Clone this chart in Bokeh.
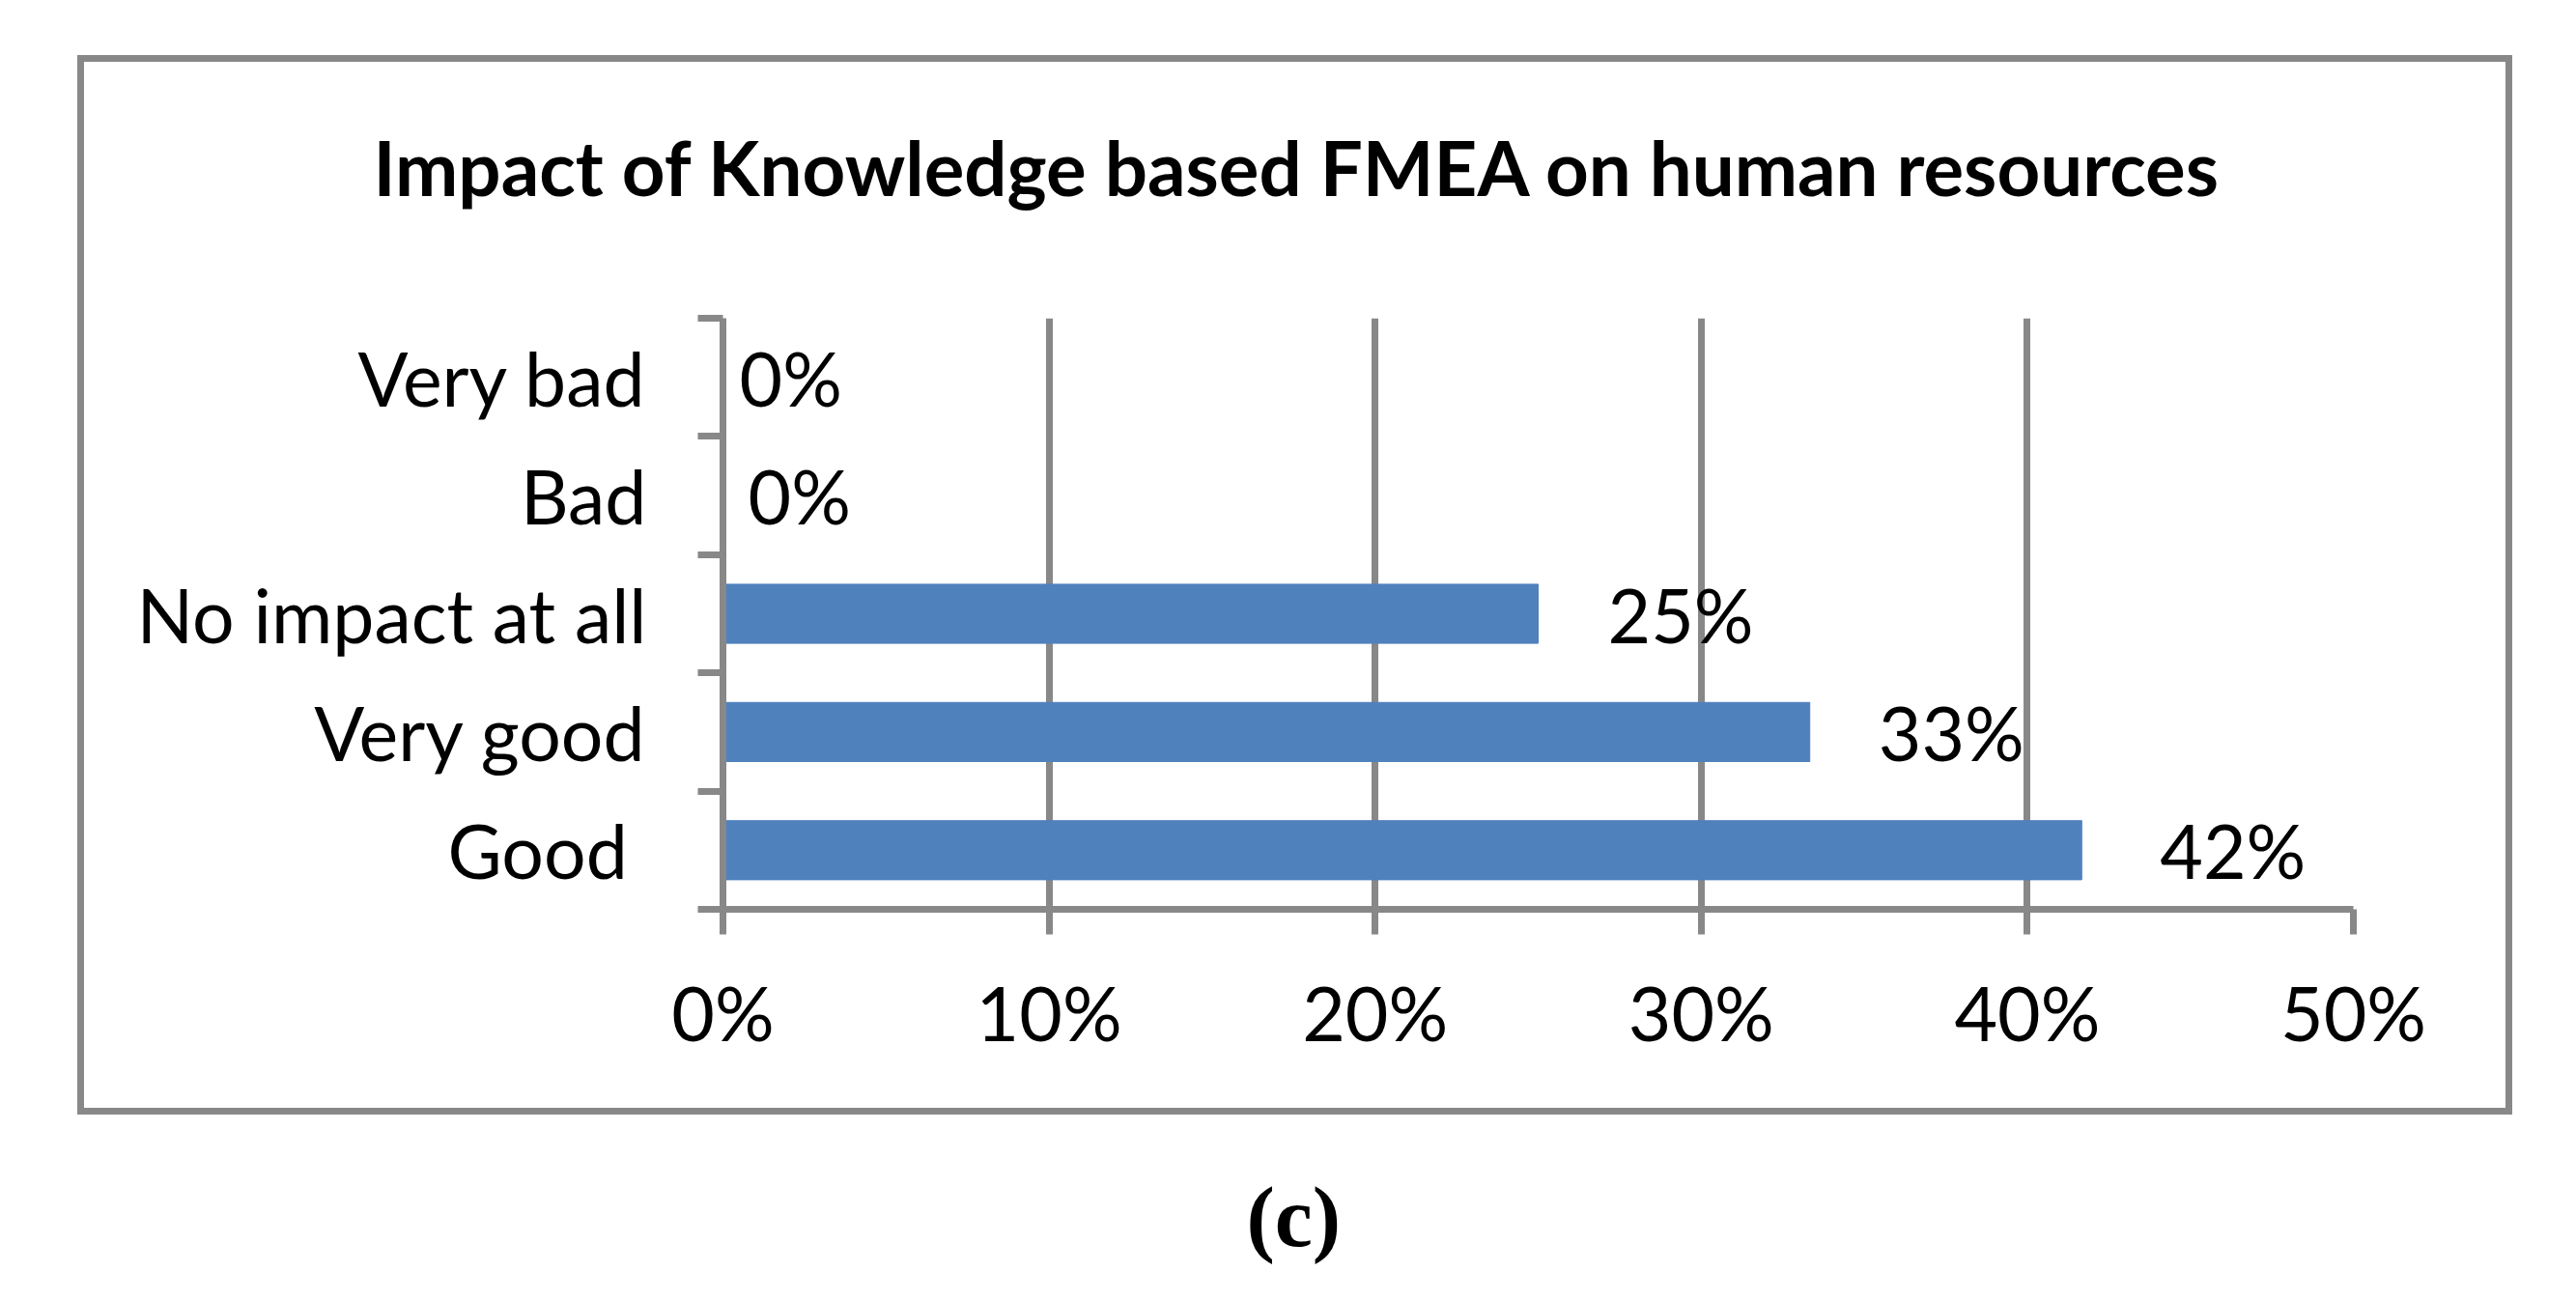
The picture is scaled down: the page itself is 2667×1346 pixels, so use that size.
from bokeh.plotting import figure
from bokeh.models import Range1d, FixedTicker, LinearAxis, ColumnDataSource
from bokeh.core.properties import value
from bokeh.embed import file_html
from bokeh.resources import INLINE

# ---- data (bottom to top) ----
categories = ["Good ", "Very good", "No impact at all", "Bad", "Very bad"]
values = [41.67, 33.33, 25.0, 0.0, 0.0]
value_labels = ["42%", "33%", "25%", "0%", "0%"]
x_ticks = [0, 10, 20, 30, 40, 50]
x_tick_labels = ["0%", "10%", "20%", "30%", "40%", "50%"]
title_text = "Impact of Knowledge based FMEA on human resources"
caption_text = "(c)"

# ---- styling ----
label_dx = [81, 71, 72, 26, 17]  # pixel offsets of the value labels
GRAY = "#888888"
BAR = "#4F81BD"
FONT = "Lato"
FS = "77px"
CAPTION_AT = 17.5  # horizontal anchor of the caption, in axis units

n = len(categories)
pos = [i + 0.5 for i in range(n)]
src = ColumnDataSource(dict(pos=pos, value=values, label=value_labels, dx=label_dx))

p = figure(width=2660, height=1340,
           x_range=Range1d(0, x_ticks[-1]), y_range=Range1d(0, n),
           output_backend="svg", toolbar_location=None,
           min_border_left=748, min_border_right=224,
           min_border_top=329, min_border_bottom=399)
p.outline_line_color = None
p.background_fill_color = None
p.border_fill_color = None

# outer gray frame of the chart, drawn behind the (transparent) canvas
g = "linear-gradient(#888888,#888888)"
p.styles = {
    "background-color": "white",
    "background-image": ", ".join([g] * 4),
    "background-position": "80px 57px, 80px 1147px, 80px 57px, 2594px 57px",
    "background-size": "2521px 7px, 2521px 7px, 7px 1097px, 7px 1097px",
    "background-repeat": "no-repeat",
}

p.title.text = title_text
p.title.align = "left"
p.title.offset = -362
p.title.text_font = FONT
p.title.text_font_style = "bold"
p.title.text_font_size = "78px"
p.title.text_color = "black"
try:
    p.title.standoff = 219
except AttributeError:
    pass

p.hbar(y="pos", left=0, right="value", height=0.5, color=BAR, source=src)
p.text(x="value", y="pos", text="label", x_offset="dx", text_align="left",
       text_baseline="middle", text_font=value(FONT), text_font_size=FS,
       text_color="black", source=src)

# x axis
xa = p.xaxis[0]
xa.ticker = FixedTicker(ticks=x_ticks)
xa.major_label_overrides = {t: l for t, l in zip(x_ticks, x_tick_labels)}
xa.axis_line_color = GRAY
xa.axis_line_width = 7
xa.major_tick_line_color = GRAY
xa.major_tick_line_width = 7
xa.major_tick_out = 26
xa.major_tick_in = 0
xa.minor_tick_line_color = None
xa.major_label_standoff = 34
xa.major_label_text_font = FONT
xa.major_label_text_font_size = FS
xa.major_label_text_color = "black"

# caption "(c)" under the boxed chart, as the single label of a bare second axis
cap_axis = LinearAxis(ticker=FixedTicker(ticks=[CAPTION_AT]),
                      major_label_overrides={CAPTION_AT: caption_text})
cap_axis.axis_line_color = None
cap_axis.major_tick_line_color = None
cap_axis.minor_tick_line_color = None
cap_axis.major_tick_out = 0
cap_axis.major_tick_in = 0
cap_axis.major_label_standoff = 115
cap_axis.major_label_text_font = "Liberation Serif"
cap_axis.major_label_text_font_style = "bold"
cap_axis.major_label_text_font_size = "88px"
cap_axis.major_label_text_color = "black"
p.add_layout(cap_axis, "below")

# y axis: labels at category centres, ticks at category boundaries
ya = p.yaxis[0]
ya.ticker = FixedTicker(ticks=pos, minor_ticks=list(range(n + 1)))
ya.major_label_overrides = {pp: c for pp, c in zip(pos, categories)}
ya.axis_line_color = GRAY
ya.axis_line_width = 7
ya.major_tick_out = 0
ya.major_tick_in = 0
ya.major_tick_line_color = None
ya.minor_tick_line_color = GRAY
ya.minor_tick_line_width = 7
ya.minor_tick_out = 26
ya.minor_tick_in = 0
ya.major_label_standoff = 53
ya.major_label_text_font = FONT
ya.major_label_text_font_size = FS
ya.major_label_text_color = "black"

p.xgrid.grid_line_color = GRAY
p.xgrid.grid_line_width = 7
p.ygrid.grid_line_color = None

open("out.html", "w").write(file_html(p, INLINE))
